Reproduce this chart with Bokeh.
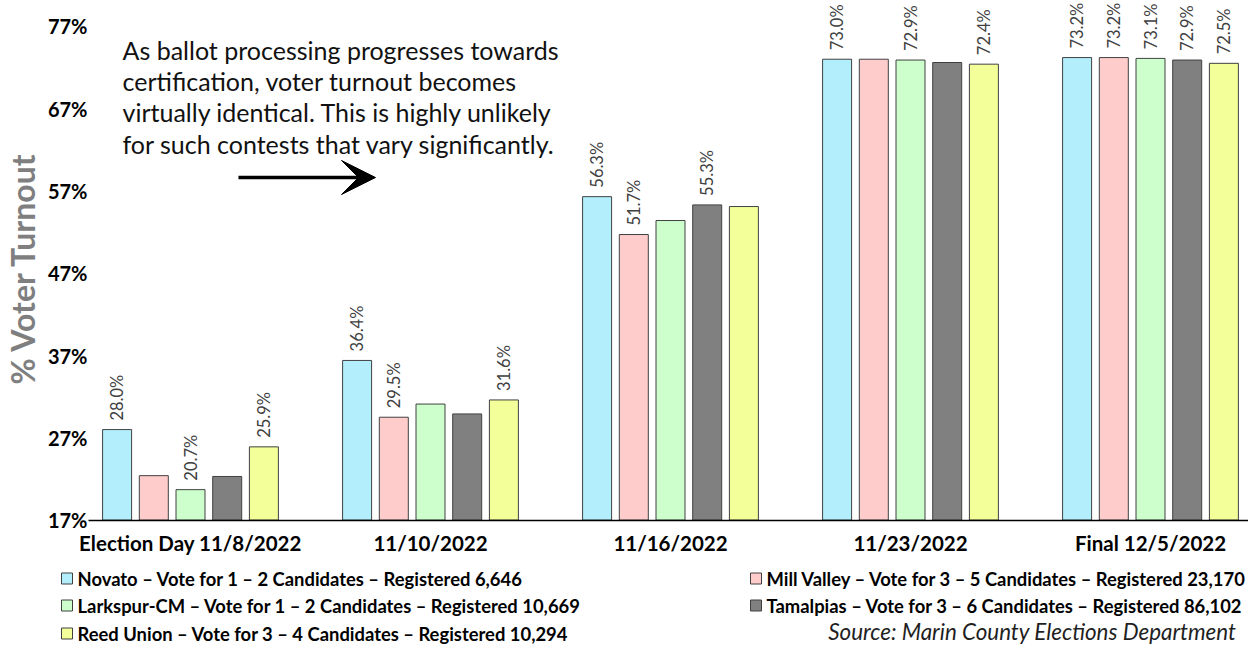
import math
from bokeh.plotting import figure
from bokeh.models import Range1d, FixedTicker, Arrow, VeeHead, ColumnDataSource
from bokeh.embed import file_html
from bokeh.resources import INLINE
from bokeh.core.properties import value

# ---------------- data ----------------
dates = ["Election Day 11/8/2022", "11/10/2022", "11/16/2022", "11/23/2022", "Final 12/5/2022"]
legend_labels = [
    "Novato \u2013 Vote for 1 \u2013 2 Candidates \u2013 Registered 6,646",
    "Mill Valley \u2013 Vote for 3 \u2013 5 Candidates \u2013 Registered 23,170",
    "Larkspur-CM \u2013 Vote for 1 \u2013 2 Candidates \u2013 Registered 10,669",
    "Tamalpias \u2013 Vote for 3 \u2013 6 Candidates \u2013 Registered 86,102",
    "Reed Union \u2013 Vote for 3 \u2013 4 Candidates \u2013 Registered 10,294",
]
novato = [28.0, 36.4, 56.3, 73.0, 73.2]
mill_valley = [22.4, 29.5, 51.7, 73.0, 73.2]
larkspur = [20.7, 31.1, 53.4, 72.9, 73.1]
tamalpias = [22.3, 29.9, 55.3, 72.6, 72.9]
reed_union = [25.9, 31.6, 55.1, 72.4, 72.5]
# which bars carry a value label
novato_lab = [True, True, True, True, True]
mill_valley_lab = [False, True, True, False, True]
larkspur_lab = [True, False, False, True, True]
tamalpias_lab = [False, False, True, False, True]
reed_union_lab = [True, True, False, True, True]
y_ticks = [17, 27, 37, 47, 57, 67, 77]
y_tick_labels = ["17%", "27%", "37%", "47%", "57%", "67%", "77%"]
note_lines = [
    "As ballot processing progresses towards",
    "certification, voter turnout becomes",
    "virtually identical. This is highly unlikely",
    "for such contests that vary significantly.",
]
source_text = "Source: Marin County Elections Department"
y_title = "% Voter Turnout"

values = [novato, mill_valley, larkspur, tamalpias, reed_union]
flags = [novato_lab, mill_valley_lab, larkspur_lab, tamalpias_lab, reed_union_lab]
colors = ["#B3EEFD", "#FFCCCC", "#CCFFCC", "#808080", "#F3FF99"]

FONT = "Lato"

# ---------------- layout (frame = whole canvas) ----------------
W, H = 1248, 646
UNIT = 240.0          # px per group
G0 = 190.0            # px of first group center
BASE = 519.6          # px of 17%
PXP = 8.23            # px per percent


def X(px):
    return (px - G0) / UNIT


def Y(py):
    return 17.0 + (BASE - py) / PXP


p = figure(width=W, height=H, x_range=Range1d(X(0), X(W)), y_range=Range1d(Y(H), Y(0)),
           output_backend="svg", toolbar_location=None,
           min_border_left=0, min_border_right=0, min_border_top=0, min_border_bottom=0)
p.outline_line_color = None
p.xgrid.visible = False
p.ygrid.visible = False
p.background_fill_color = "white"
p.border_fill_color = "white"

offset = 36.7 / UNIT
bw = 29.0 / UNIT
for j, (vals, flg, col) in enumerate(zip(values, flags, colors)):
    xs = [i + (j - 2) * offset for i in range(len(dates))]
    labels = ["%.1f%%" % v if f else "" for v, f in zip(vals, flg)]
    src = ColumnDataSource(dict(x=xs, top=vals, label=labels))
    p.vbar(x="x", top="top", bottom=17, width=bw, source=src,
           fill_color=col, line_color="#404040", line_width=1)
    p.text(x="x", y="top", text="label", source=src, angle=math.pi / 2,
           text_align="left", text_baseline="middle", y_offset=-9,
           text_font=value(FONT), text_font_size="16.5px", text_color="#404040")

# y axis (fixed inside the canvas-wide frame)
p.yaxis.fixed_location = X(88)
p.yaxis.bounds = (17, 78.3)
p.yaxis.ticker = FixedTicker(ticks=y_ticks)
p.yaxis.major_label_overrides = {t: l for t, l in zip(y_ticks, y_tick_labels)}
p.yaxis.axis_line_color = None
p.yaxis.major_tick_line_color = None
p.yaxis.minor_tick_line_color = None
p.yaxis.major_tick_out = 0
p.yaxis.major_tick_in = 0
p.yaxis.major_label_standoff = 1
p.yaxis.major_label_text_font = FONT
p.yaxis.major_label_text_font_style = "bold"
p.yaxis.major_label_text_font_size = "20px"
p.yaxis.major_label_text_color = "black"
p.yaxis.axis_label = y_title
p.yaxis.axis_label_text_font = FONT
p.yaxis.axis_label_text_font_style = "bold"
p.yaxis.axis_label_text_font_size = "32px"
p.yaxis.axis_label_text_color = "#7F7F7F"
p.yaxis.axis_label_standoff = 3

# x axis
p.xaxis.fixed_location = 17
p.xaxis.bounds = (X(88), X(W))
p.xaxis.ticker = FixedTicker(ticks=list(range(len(dates))))
p.xaxis.major_label_overrides = {i: d for i, d in enumerate(dates)}
p.xaxis.axis_line_color = "black"
p.xaxis.axis_line_width = 1.5
p.xaxis.major_tick_line_color = None
p.xaxis.minor_tick_line_color = None
p.xaxis.major_tick_out = 0
p.xaxis.major_tick_in = 0
p.xaxis.major_label_standoff = 11
p.xaxis.major_label_text_font = FONT
p.xaxis.major_label_text_font_style = "bold"
p.xaxis.major_label_text_font_size = "20.5px"
p.xaxis.major_label_text_color = "black"

# annotation text + arrow
note_src = ColumnDataSource(dict(x=[X(122)] * 4, y=[Y(49), Y(80), Y(111), Y(143)], t=note_lines))
p.text(x="x", y="y", text="t", source=note_src, text_align="left", text_baseline="middle",
       text_font=value(FONT), text_font_size="25px", text_color="#111111")
p.add_layout(Arrow(end=VeeHead(size=34, fill_color="black", line_color="black"),
                   x_start=X(238), y_start=Y(177), x_end=X(375), y_end=Y(177),
                   line_width=3.3, line_color="black"))

# legend (custom, two columns) + source
left_idx = [0, 2, 4]
right_idx = [1, 3]
rows = [578, 605, 633]
sq = dict(x=[], y=[], c=[])
tx = dict(x=[], y=[], t=[])
for r, k in enumerate(left_idx):
    sq["x"].append(X(66.5)); sq["y"].append(Y(rows[r])); sq["c"].append(colors[k])
    tx["x"].append(X(77)); tx["y"].append(Y(rows[r])); tx["t"].append(legend_labels[k])
for r, k in enumerate(right_idx):
    sq["x"].append(X(755.5)); sq["y"].append(Y(rows[r])); sq["c"].append(colors[k])
    tx["x"].append(X(766)); tx["y"].append(Y(rows[r])); tx["t"].append(legend_labels[k])
p.rect(x="x", y="y", width=11, height=11, width_units="screen", height_units="screen",
       fill_color="c", line_color="#404040", line_width=1, source=ColumnDataSource(sq))
p.text(x="x", y="y", text="t", source=ColumnDataSource(tx), text_align="left",
       text_baseline="middle", text_font=value(FONT), text_font_style="bold",
       text_font_size="18.4px", text_color="black")
p.text(x=[X(1236)], y=[Y(631)], text=[source_text], text_align="right", text_baseline="middle",
       text_font=value(FONT), text_font_style="italic", text_font_size="22.4px",
       text_color="#1F1F1F")

open("out.html", "w").write(file_html(p, INLINE))
